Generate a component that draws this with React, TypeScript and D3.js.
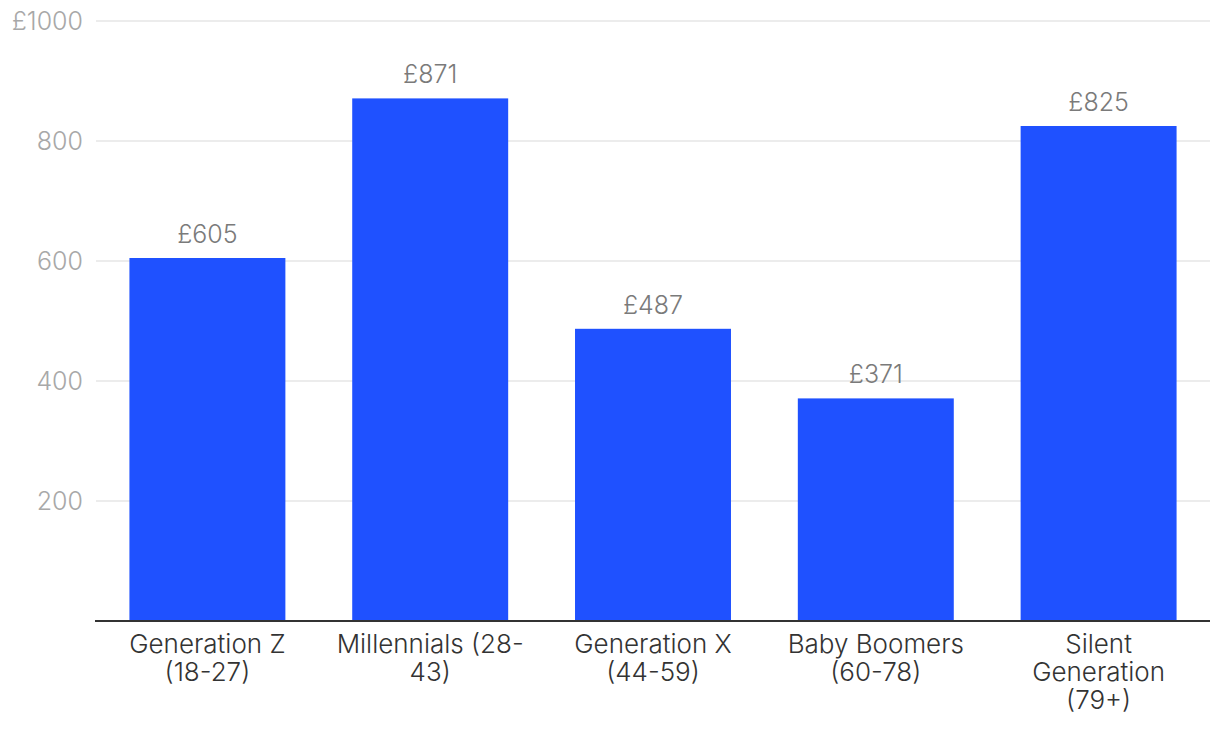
import React from "react";
import * as d3 from "d3";

const categories = [
  "Generation Z (18-27)",
  "Millennials (28-43)",
  "Generation X (44-59)",
  "Baby Boomers (60-78)",
  "Silent Generation (79+)",
];
const labelLines = [
  ["Generation Z", "(18-27)"],
  ["Millennials (28-", "43)"],
  ["Generation X", "(44-59)"],
  ["Baby Boomers", "(60-78)"],
  ["Silent", "Generation", "(79+)"],
];
const values = [605, 871, 487, 371, 825];
const yTicks = [200, 400, 600, 800, 1000];

const W = 1220;
const H = 732;
const margin = { left: 96, right: 10, top: 21, bottom: 111 };
const FONT = "Inter, 'Noto Sans', sans-serif";

export default function App() {
  const x = d3
    .scaleBand<string>()
    .domain(categories)
    .range([margin.left, W - margin.right])
    .paddingInner(0.3)
    .paddingOuter(0.15);
  const y = d3
    .scaleLinear()
    .domain([0, 1000])
    .range([H - margin.bottom, margin.top]);

  return (
    <svg
      width={W}
      height={H}
      style={{ position: "absolute", left: 0, top: 0, background: "#fff" }}
      fontFamily={FONT}
    >
      {yTicks.map((t) => (
        <g key={t}>
          <line
            x1={margin.left}
            x2={W - margin.right}
            y1={y(t)}
            y2={y(t)}
            stroke="#e6e6e6"
            strokeWidth={1.5}
          />
          <text
            x={83}
            y={y(t)}
            dy="0.36em"
            textAnchor="end"
            fontSize={25}
            fontWeight={300}
            fill="#a8a8a8"
          >
            {t === 1000 ? `£${t}` : t}
          </text>
        </g>
      ))}
      {categories.map((c, i) => (
        <g key={c}>
          <rect
            x={x(c)}
            y={y(values[i])}
            width={x.bandwidth()}
            height={y(0) - y(values[i])}
            fill="#1f51ff"
          />
          <text
            x={(x(c) as number) + x.bandwidth() / 2}
            y={y(values[i]) - 15}
            textAnchor="middle"
            fontSize={25}
            fontWeight={300}
            fill="#7a7a7a"
          >
            {`£${values[i]}`}
          </text>
          <text
            x={(x(c) as number) + x.bandwidth() / 2}
            y={y(0) + 32}
            textAnchor="middle"
            fontSize={26}
            fontWeight={300}
            fill="#333333"
          >
            {labelLines[i].map((l, k) => (
              <tspan key={k} x={(x(c) as number) + x.bandwidth() / 2} dy={k === 0 ? 0 : 28}>
                {l}
              </tspan>
            ))}
          </text>
        </g>
      ))}
      <line
        x1={margin.left - 1}
        x2={W - margin.right}
        y1={y(0)}
        y2={y(0)}
        stroke="#333333"
        strokeWidth={2}
      />
    </svg>
  );
}
